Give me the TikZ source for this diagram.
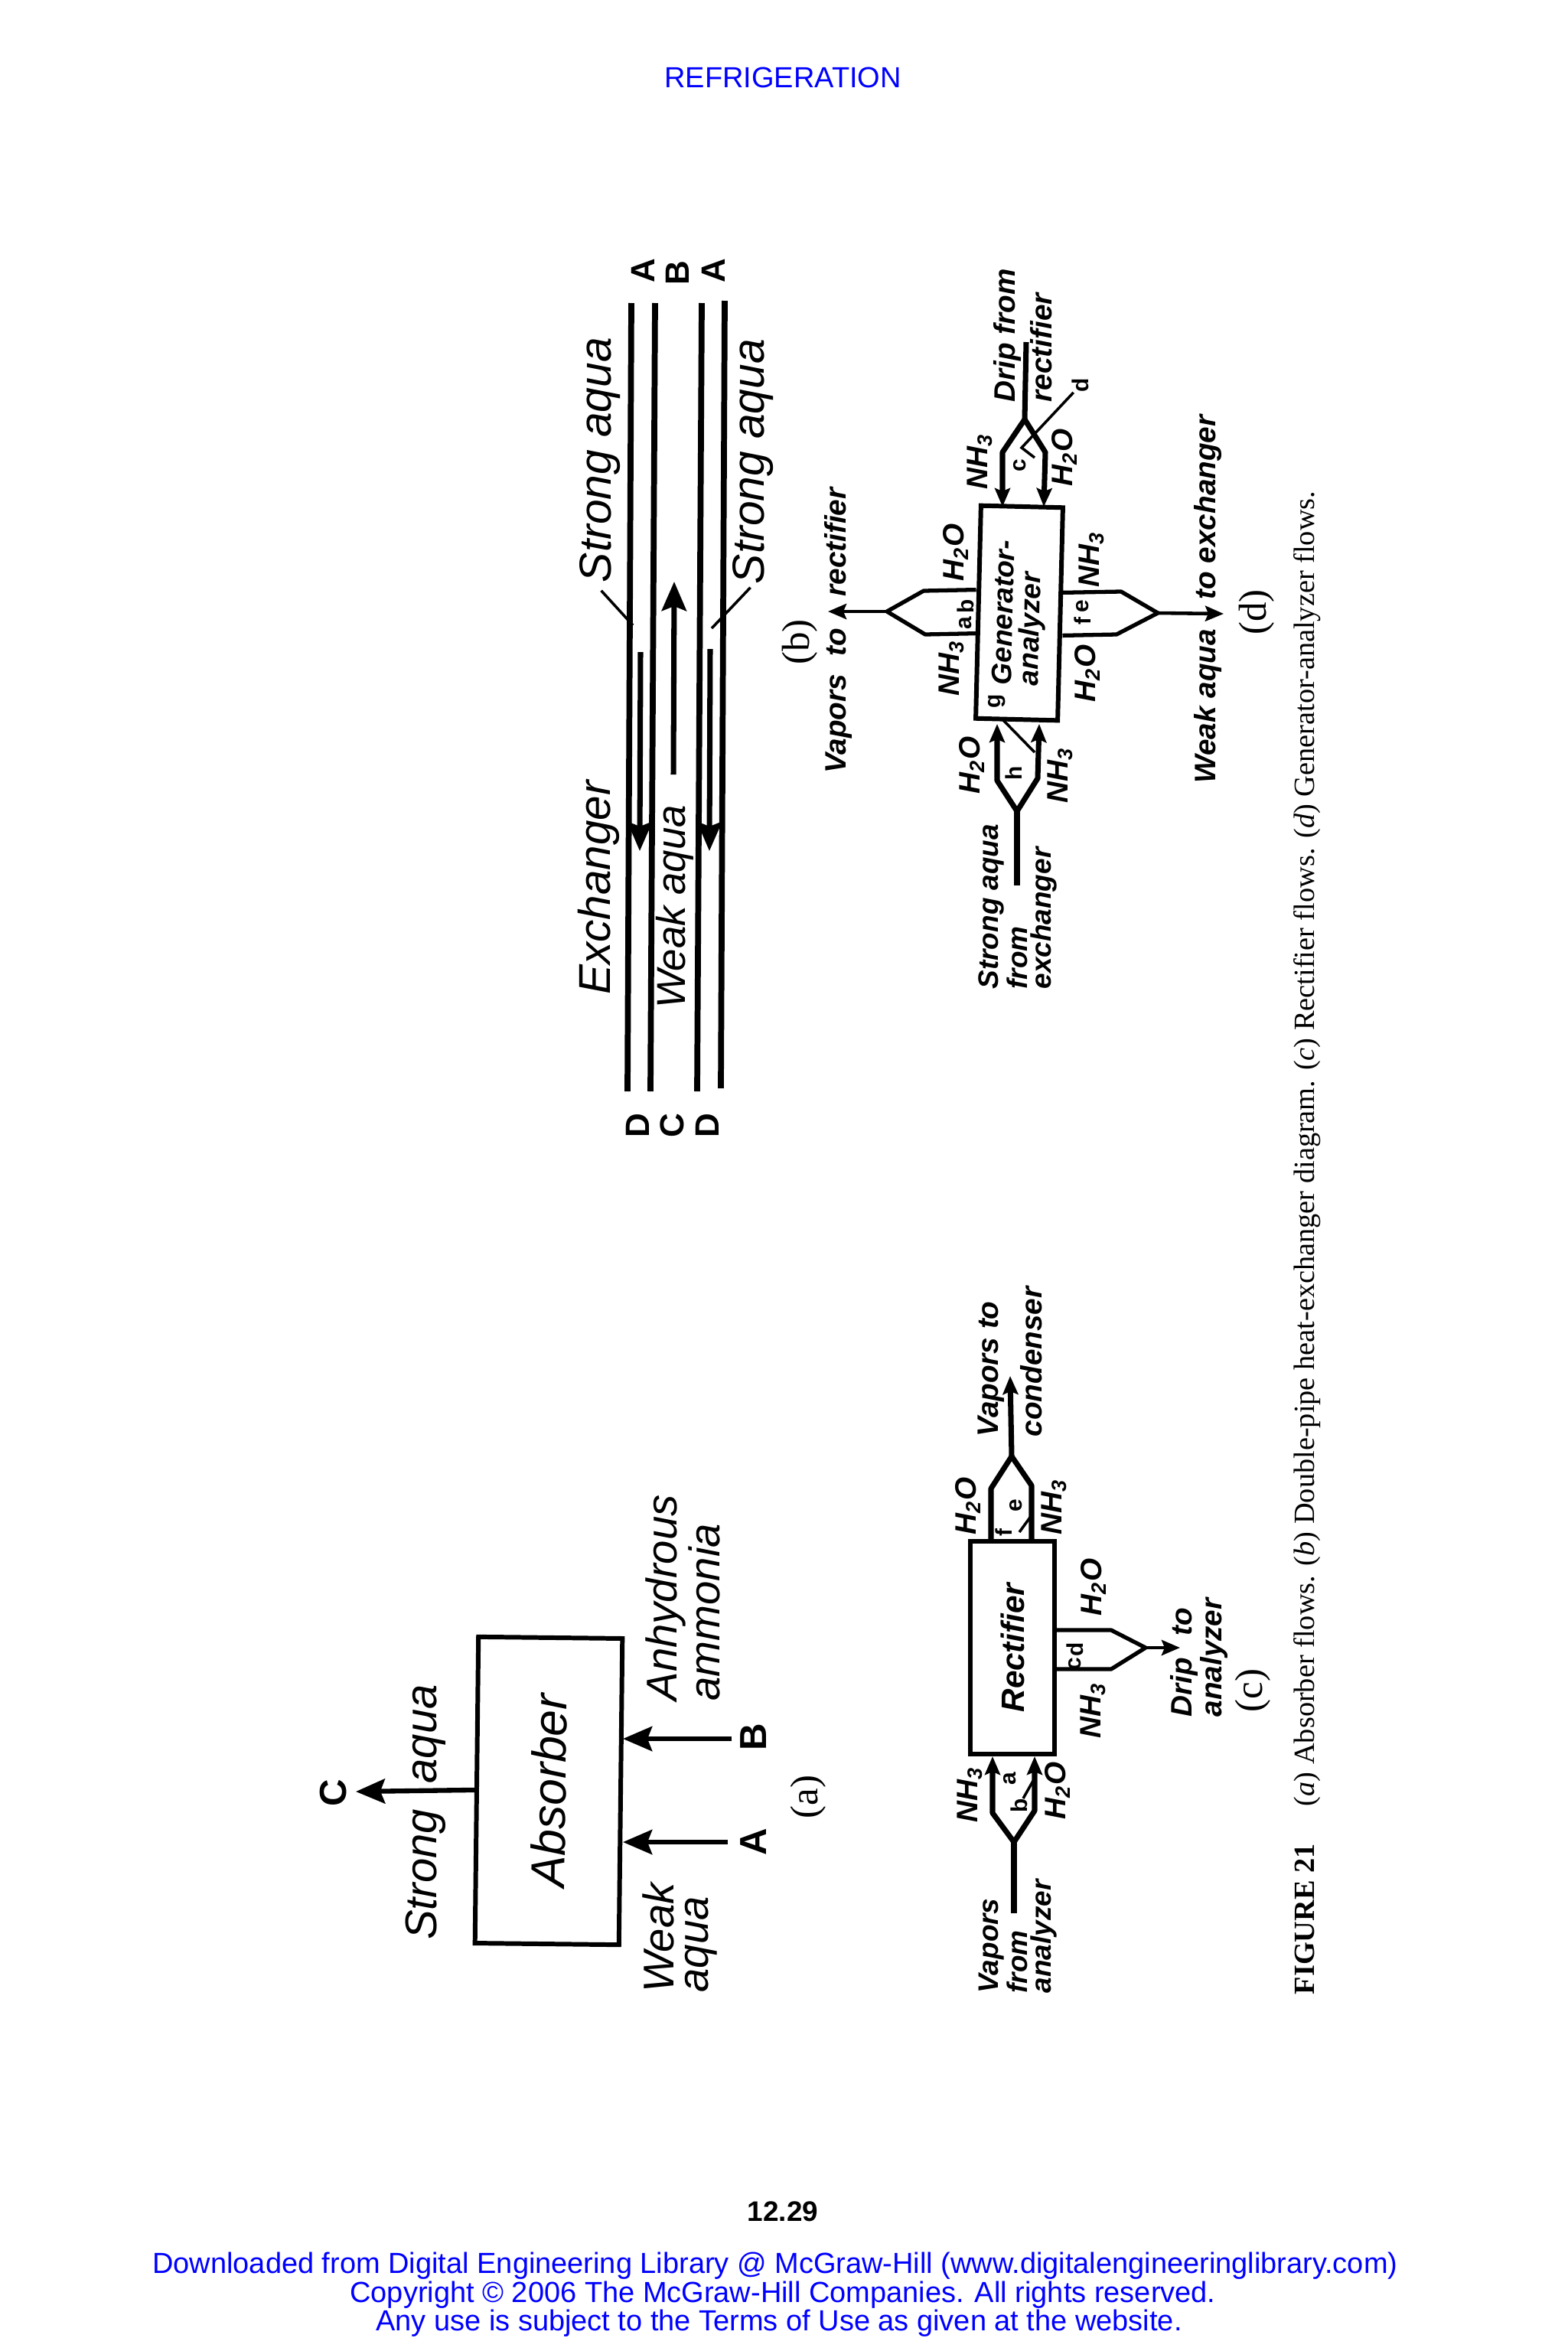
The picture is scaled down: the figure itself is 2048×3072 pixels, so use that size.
\documentclass[tikz,border=0pt]{standalone}
\usepackage{fontspec}
\setmainfont{Liberation Sans}
\newfontfamily\capfont{Liberation Serif}
\usepackage{xcolor}
\usetikzlibrary{arrows.meta}
\definecolor{linkblue}{RGB}{0,0,255}

\begin{document}
\begin{tikzpicture}[
        x=0.01cm, y=-0.01cm,
        every node/.style={inner sep=0pt},
        hand/.style 2 args={rotate=90, font=\fontsize{#1}{#2}\selectfont\itshape},
        smallhand/.style 2 args={rotate=90, font=\fontsize{#1}{#2}\selectfont\bfseries\itshape},
        chem/.style={rotate=90, font=\fontsize{11}{11}\selectfont\bfseries\itshape},
        tag/.style={rotate=90, font=\fontsize{8.5}{8.5}\selectfont\bfseries},
        letter/.style={rotate=90, font=\fontsize{#1}{#1}\selectfont\bfseries},
        part/.style={rotate=90, font=\capfont\fontsize{14.5}{14.5}\selectfont},
        header/.style={anchor=base, text=linkblue, font=\fontsize{10.8}{10.8}\selectfont},
        box/.style={draw, line width=1.7pt, align=left},
        flow/.style={line width=2pt, line join=round},
        branch/.style={line width=1.5pt, line join=round},
        leader/.style={line width=1pt},
        pipe/.style={line width=2.2pt},
        bigarrow/.style={line width=1.8pt, -{Stealth[length=0.38cm, width=0.32cm, inset=0.06cm]}},
        smallarrow/.style={flow, -{Stealth[length=0.24cm, width=0.2cm, inset=0.04cm]}},
    ]
        \path[use as bounding box, fill=white] (0,0) rectangle (2048,3072);

        % Page text
        \node[header] (title) at (1023,114) {REFRIGERATION};
        \node[anchor=base, font=\fontsize{10.5}{10.5}\selectfont\bfseries] (pageno) at (1023,2902) {12.29};
        \node[header] (foota) at (1013,2970) {Downloaded from Digital Engineering Library @ McGraw-Hill (www.digitalengineeringlibrary.com)};
        \node[header] (footb) at (1023,3008) {Copyright © 2006 The McGraw-Hill Companies. All rights reserved.};
        \node[header] (footc) at (1018,3045) {Any use is subject to the Terms of Use as given at the website.};
        \node[anchor=base, rotate=90, font=\capfont\fontsize{10.9}{10.9}\selectfont] (caption) at (1717,1624)
            {{\bfseries FIGURE 21}\hspace{14pt}(\textit{a}) Absorber flows. (\textit{b}) Double-pipe heat-exchanger diagram. (\textit{c}) Rectifier flows. (\textit{d}) Generator-analyzer flows.};

        % (a) Absorber
        \node[box, rotate=89.35, minimum width=4cm, minimum height=1.88cm, font=\fontsize{17.7}{17.7}\selectfont\itshape] (absorber) at (717,2340) {Absorber};
        \node[letter=14] (ac) at (436,2343) {C};
        \node[letter=14] (aa) at (985,2407) {A};
        \node[letter=14] (ab) at (985,2270) {B};
        \node[part] (parta) at (1056,2348) {(a)};
        \node[hand={16.5}{16.5}, anchor=base] (strong) at (570,2368) {Strong\hspace{5pt} aqua};
        \node[hand={16}{12.8}, anchor=west, align=left] (weak) at (888,2604) {Weak\\aqua};
        \node[hand={16}{12.8}, anchor=west, align=left] (anhydrous) at (892,2223) {Anhydrous\\ammonia};
        \coordinate (acend) at (465,2341);
        \coordinate (aain) at (951,2407);
        \coordinate (abin) at (956,2272);
        \draw[bigarrow] (absorber.north) -- (acend);
        \draw[bigarrow] (aain) -- (aain -| absorber.south);
        \draw[bigarrow] (abin) -- (abin -| absorber.south);

        % (b) Exchanger
        \coordinate (pipea) at (825,396);
        \coordinate (pipeb) at (856,396);
        \coordinate (pipec) at (917,396);
        \coordinate (piped) at (947,393);
        \coordinate (pipee) at (820,1426);
        \coordinate (pipef) at (850,1426);
        \coordinate (pipeg) at (911,1426);
        \coordinate (pipeh) at (942,1422);
        \draw[pipe] (pipea) -- (pipee);
        \draw[pipe] (pipeb) -- (pipef);
        \draw[pipe] (pipec) -- (pipeg);
        \draw[pipe] (piped) -- (pipeh);
        \node[letter=12.5] (ta) at (840,354) {A};
        \node[letter=12.5] (tb) at (885,357) {B};
        \node[letter=12.5] (tc) at (932,354) {A};
        \node[letter=12.5] (ba) at (833,1471) {D};
        \node[letter=12.5] (bb) at (878,1471) {C};
        \node[letter=12.5] (bc) at (924,1471) {D};
        \node[hand={16.7}{16.7}, anchor=base] (stronga) at (798,601) {Strong aqua};
        \node[hand={16.7}{16.7}, anchor=base] (strongb) at (998,603) {Strong aqua};
        \node[hand={16.6}{16.6}, anchor=base] (exchanger) at (797,1160) {Exchanger};
        \node[hand={15}{15}, anchor=base] (weakaqua) at (895,1185) {Weak aqua};
        \node[part] (partb) at (1045,839) {(b)};
        \coordinate (flowa) at (837,852);
        \coordinate (flowb) at (836,1112);
        \coordinate (flowc) at (880,1012);
        \coordinate (flowd) at (881,760);
        \coordinate (flowe) at (928,848);
        \coordinate (flowf) at (927,1112);
        \draw[bigarrow, line width=2pt] (flowa) -- (flowb);
        \draw[bigarrow, line width=2pt] (flowc) -- (flowd);
        \draw[bigarrow, line width=2pt] (flowe) -- (flowf);
        \coordinate (leada) at (827,817);
        \coordinate (leadb) at (930,821);
        \draw[leader] (stronga.west) ++(2,10) -- (leada);
        \draw[leader] (strongb.west) ++(-3,4) -- (leadb);

        % (c) Rectifier
        \node[box, rotate=90, minimum width=2.77cm, minimum height=1.09cm, font=\fontsize{12}{12}\selectfont\bfseries\itshape] (rectifier) at (1323,2153) {Rectifier};
        \coordinate (rtop) at (1322,1903);
        \coordinate (rtl) at (1295,1945);
        \coordinate (rtr) at (1348,1941);
        \coordinate (rout) at (1320,1798);
        \coordinate (rlow) at (1325,2407);
        \coordinate (rll) at (1297,2369);
        \coordinate (rlr) at (1352,2366);
        \coordinate (rin) at (1325,2500);
        \coordinate (rsa) at (1452,2130);
        \coordinate (rsb) at (1452,2181);
        \coordinate (rsj) at (1497,2153);
        \coordinate (rdrip) at (1542,2153);
        \draw[flow] (rtl) ++(0,70) -- (rtl) -- (rtop) -- (rtr) -- ++(0,74);
        \draw[smallarrow] (rtop) -- (rout);
        \draw[flow] (rin) -- (rlow);
        \draw[smallarrow] (rlow) -- (rll) -- ++(0,-74);
        \draw[smallarrow] (rlow) -- (rlr) -- ++(0,-71);
        \draw[branch] ([yshift=0.23cm]rectifier.south) -- (rsa) -- (rsj) -- (rsb) -- ([yshift=-0.28cm]rectifier.south);
        \draw[smallarrow, line width=1.3pt] (rsj) -- (rdrip);
        \node[chem] (rnha) at (1377,1969) {NH\textsubscript{3}};
        \node[chem] (rhoa) at (1265,1968) {H\textsubscript{2}O};
        \node[chem] (rhob) at (1429,2074) {H\textsubscript{2}O};
        \node[chem] (rnhb) at (1428,2235) {NH\textsubscript{3}};
        \node[chem] (rnhc) at (1267,2345) {NH\textsubscript{3}};
        \node[chem] (rhoc) at (1382,2340) {H\textsubscript{2}O};
        \node[tag] (rf) at (1312,2002) {f};
        \node[tag] (re) at (1328,1967) {e};
        \node[tag] (rb) at (1332,2359) {b};
        \node[tag] (ra) at (1320,2324) {a};
        \node[tag] (rc) at (1405,2174) {c};
        \node[tag] (rd) at (1405,2155) {d};
        \draw[leader] (rf) ++(20,0) -- +(16,-22);
        \draw[leader] (rb) ++(5,-9) -- +(13,-23);
        \node[smallhand={11}{16}, anchor=west, align=left] (vapcond) at (1320,1878) {Vapors to\\condenser};
        \node[smallhand={10.5}{8.9}, anchor=west, align=left] (vapan) at (1330,2605) {Vapors\\from\\analyzer};
        \node[smallhand={11}{10}, anchor=west, align=left] (dripan) at (1567,2244) {Drip\hspace{5pt} to\\analyzer};
        \node[part] (partc) at (1637,2209) {(c)};

        % (d) Generator-analyzer
        \node[box, rotate=88.6, minimum width=2.78cm, minimum height=1.07cm, font=\fontsize{10.5}{10}\selectfont\bfseries\itshape] (generator) at (1332,801) {Generator-\\analyzer};
        \coordinate (gtop) at (1339,548);
        \coordinate (gtl) at (1310,591);
        \coordinate (gtr) at (1366,591);
        \coordinate (gin) at (1341,447);
        \coordinate (glow) at (1329,1060);
        \coordinate (gll) at (1303,1020);
        \coordinate (glr) at (1356,1017);
        \coordinate (gst) at (1329,1157);
        \coordinate (gva) at (1207,772);
        \coordinate (gvb) at (1209,829);
        \coordinate (gvj) at (1159,799);
        \coordinate (gvt) at (1082,799);
        \coordinate (gwa) at (1465,773);
        \coordinate (gwb) at (1459,829);
        \coordinate (gwj) at (1513,801);
        \coordinate (gwt) at (1599,802);
        \draw[flow] (gin) -- (gtop);
        \draw[smallarrow] (gtop) -- (gtl) -- ++(0,71);
        \draw[smallarrow] (gtop) -- (gtr) -- ++(-2,71);
        \draw[flow] (gst) -- (glow);
        \draw[smallarrow] (glow) -- (gll) -- ++(0,-74);
        \draw[smallarrow] (glow) -- (glr) -- ++(2,-71);
        \draw[branch] ([yshift=0.29cm]generator.north) -- (gva) -- (gvj) -- (gvb) -- ([yshift=-0.28cm]generator.north);
        \draw[branch] ([yshift=0.28cm]generator.south) -- (gwa) -- (gwj) -- (gwb) -- ([yshift=-0.28cm]generator.south);
        \draw[smallarrow, line width=1.3pt] (gvj) -- (gvt);
        \draw[smallarrow, line width=1.3pt] (gwj) -- (gwt);
        \node[chem] (ghoa) at (1249,722) {H\textsubscript{2}O};
        \node[chem] (gnha) at (1243,873) {NH\textsubscript{3}};
        \node[chem] (gnhb) at (1280,603) {NH\textsubscript{3}};
        \node[chem] (ghob) at (1391,598) {H\textsubscript{2}O};
        \node[chem] (gnhc) at (1426,731) {NH\textsubscript{3}};
        \node[chem] (ghoc) at (1421,880) {H\textsubscript{2}O};
        \node[chem] (ghod) at (1270,1000) {H\textsubscript{2}O};
        \node[chem] (gnhd) at (1385,1013) {NH\textsubscript{3}};
        \node[tag] (ga) at (1262,814) {a};
        \node[tag] (gb) at (1262,792) {b};
        \node[tag] (gf) at (1415,812) {f};
        \node[tag] (ge) at (1415,792) {e};
        \node[tag] (gg) at (1303,916) {g};
        \node[tag] (gh) at (1325,1010) {h};
        \node[tag] (gc) at (1333,608) {c};
        \node[tag] (gd) at (1412,503) {d};
        \coordinate (gdend) at (1335,585);
        \coordinate (gdhook) at (1352,598);
        \draw[leader] (gg) ++(7,24) -- +(42,43);
        \draw[leader] (gd) -- (gdend) -- (gdhook);
        \node[smallhand={11}{11}, anchor=base] (vaprect) at (1105,824) {Vapors\hspace{3.7pt} to\hspace{8.7pt} rectifier};
        \node[smallhand={11}{11}, anchor=base] (weakex) at (1588,783) {Weak aqua\hspace{8pt} to exchanger};
        \node[smallhand={10.5}{9}, anchor=west, align=left] (strongex) at (1330,1293) {Strong aqua\\from\\exchanger};
        \node[smallhand={11}{13.6}, anchor=west, align=left] (driprect) at (1337,526) {Drip from\\rectifier};
        \node[part] (partd) at (1642,800) {(d)};
    \end{tikzpicture}
\end{document}
